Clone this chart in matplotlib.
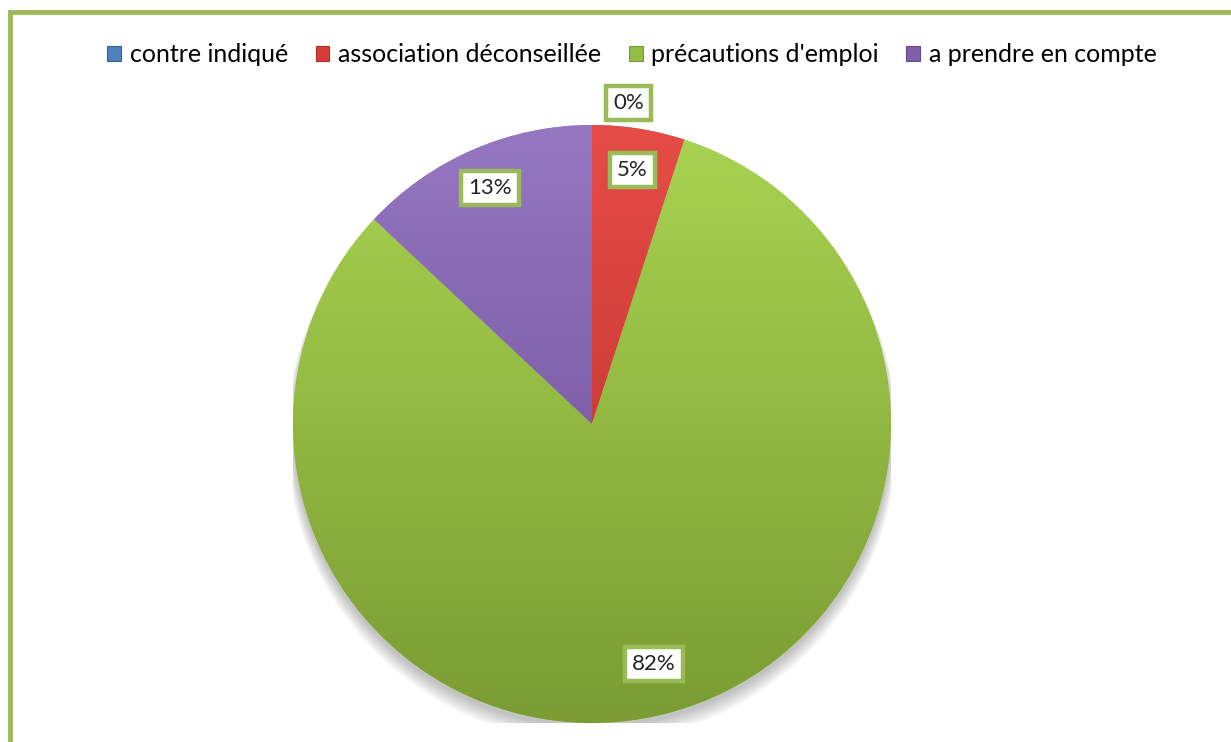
import numpy as np
import matplotlib
matplotlib.use("Agg")
import matplotlib.pyplot as plt
from matplotlib.patches import Rectangle
from matplotlib.colors import LinearSegmentedColormap

# Data
categories = ["contre indiqué", "association déconseillée",
              "précautions d'emploi", "a prendre en compte"]
values = [0, 5, 82, 13]
colors = ["#4f81bd", "#d63c37", "#93bd45", "#8060a8"]
light = ["#7aa6dc", "#e54c46", "#a9d451", "#9577c2"]
dark = ["#35608f", "#b82e2a", "#7a9c33", "#68498f"]

plt.rcParams["font.family"] = ["Lato", "DejaVu Sans"]

W, H = 1231, 742
fig = plt.figure(figsize=(W / 100, H / 100), dpi=100)
fig.patch.set_facecolor("white")

# Green chart frame
frame = Rectangle((10 / W, -0.1), 1.2, (H - 12) / H + 0.1,
                  transform=fig.transFigure, fill=False,
                  edgecolor="#9bbb59", linewidth=3.5, zorder=0)
fig.patches.append(frame)

cx, cy, r = 592, 424, 299
ax = fig.add_axes([(cx - r) / W, (H - cy - r) / H, 2 * r / W, 2 * r / H])
ax.set_xlim(-1, 1)
ax.set_ylim(-1, 1)
ax.set_aspect("equal")
ax.axis("off")

# soft shadow under the pie
for i in range(8):
    sh = plt.Circle((0.0, -0.015 - i * 0.004), 1.0 + i * 0.003,
                    color="black", alpha=0.03, zorder=0, linewidth=0)
    ax.add_patch(sh)

wedges, _ = ax.pie(values, colors=colors, startangle=90, counterclock=False,
                   radius=1.0, wedgeprops=dict(linewidth=0.6, edgecolor="#ffffff40"))
ax.set_xlim(-1, 1)
ax.set_ylim(-1, 1)

# vertical shading inside each slice
grad = np.linspace(1, 0, 256).reshape(-1, 1)
for w, lc, dc in zip(wedges, light, dark):
    cmap = LinearSegmentedColormap.from_list("s", [dc, lc])
    im = ax.imshow(grad, extent=(-1, 1, -1, 1), cmap=cmap, origin="upper",
                   aspect="auto", zorder=w.get_zorder() + 0.1)
    im.set_clip_path(w)
ax.set_xlim(-1, 1)
ax.set_ylim(-1, 1)

# percentage labels
total = sum(values)
start = 90.0
for v in values:
    sweep = 360.0 * v / total
    mid = np.deg2rad(start - sweep / 2)
    if v == 0:
        dist = 1.08
        ang = np.deg2rad(start - 6.5)
    else:
        dist = 0.86 if v < 50 else 0.83
        ang = mid
    ax.text(dist * np.cos(ang), dist * np.sin(ang), f"{v:.0f}%",
            ha="center", va="center", fontsize=16, color="#222222", zorder=10,
            bbox=dict(boxstyle="square,pad=0.32", facecolor="white",
                      edgecolor="#9bbb59", linewidth=3.2))
    start -= sweep

# legend
handles = [Rectangle((0, 0), 1, 1, facecolor=c, edgecolor=d, linewidth=0.8)
           for c, d in zip(colors, dark)]
fig.legend(handles, categories, loc="center", ncol=4,
           bbox_to_anchor=(632 / W, 1 - 55 / H), frameon=False,
           fontsize=18, handlelength=0.55, handleheight=0.55,
           handletextpad=0.35, columnspacing=1.1)

fig.savefig("out.png", dpi=100)
